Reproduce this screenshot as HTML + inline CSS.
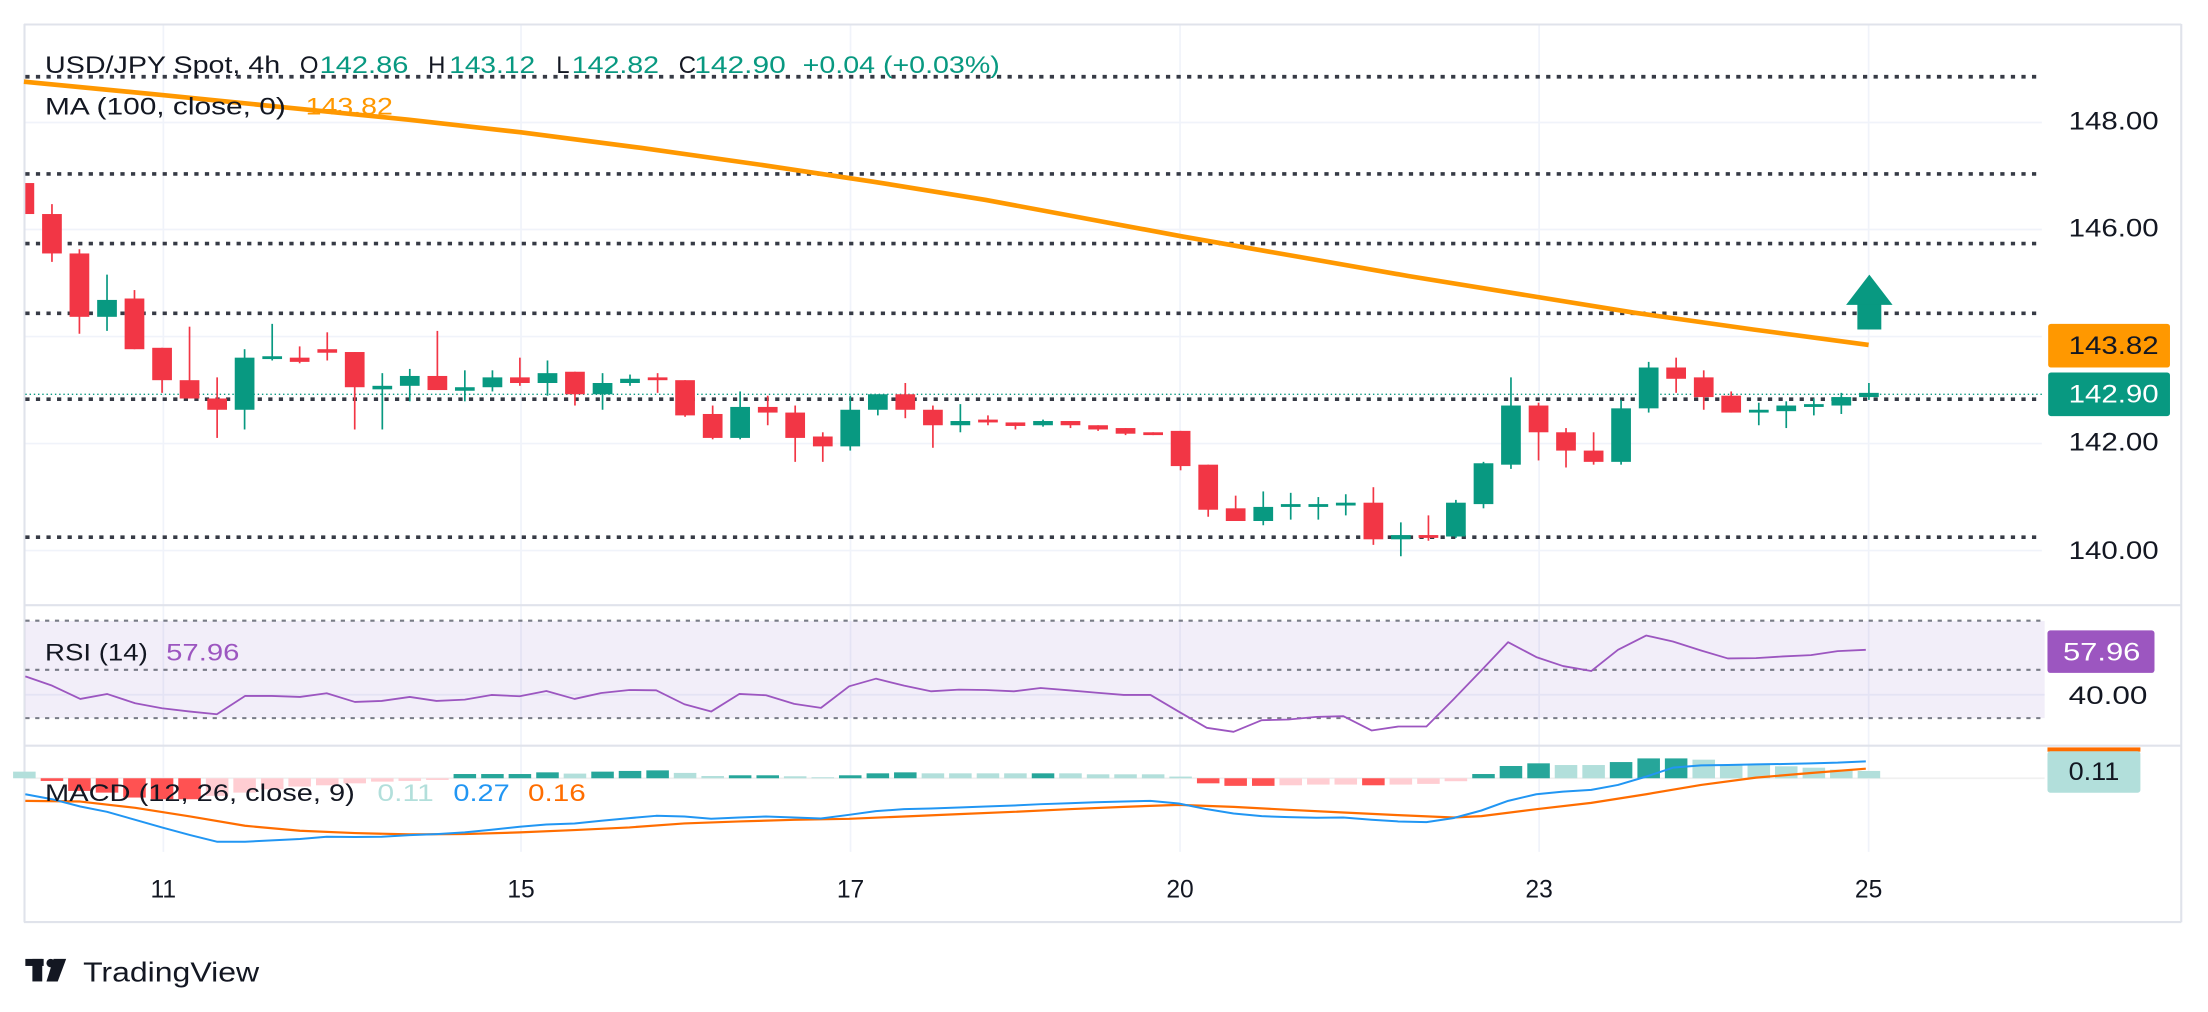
<!DOCTYPE html>
<html><head><meta charset="utf-8"><style>
html,body{margin:0;padding:0;background:#fff;}
svg{display:block;}
text{font-family:"Liberation Sans",sans-serif;}
</style></head><body>
<svg width="2208" height="1012" viewBox="0 0 1568 718.7" preserveAspectRatio="none" xmlns="http://www.w3.org/2000/svg">
<rect width="1568" height="718.7" fill="#fff"/>
<!-- grid -->
<g stroke="#f0f3fa" stroke-width="1.2">
<line x1="18" y1="87" x2="1450" y2="87"/><line x1="18" y1="163" x2="1450" y2="163"/><line x1="18" y1="239" x2="1450" y2="239"/><line x1="18" y1="315" x2="1450" y2="315"/><line x1="18" y1="391" x2="1450" y2="391"/>
<line x1="116" y1="17" x2="116" y2="605"/><line x1="370" y1="17" x2="370" y2="605"/><line x1="604" y1="17" x2="604" y2="605"/><line x1="838" y1="17" x2="838" y2="605"/><line x1="1093" y1="17" x2="1093" y2="605"/><line x1="1327" y1="17" x2="1327" y2="605"/>
<line x1="18" y1="493.4" x2="1452" y2="493.4"/>
</g>
<!-- pane borders -->
<g stroke="#e0e3eb" stroke-width="1.5" fill="none">
<line x1="17" y1="17.4" x2="1549" y2="17.4"/>
<line x1="17.4" y1="17" x2="17.4" y2="655"/>
<line x1="1549" y1="17" x2="1549" y2="655"/>
<line x1="17" y1="429.8" x2="1549" y2="429.8"/>
<line x1="17" y1="529.6" x2="1549" y2="529.6"/>
<line x1="17" y1="654.8" x2="1549" y2="654.8"/>
</g>
<!-- dotted levels -->
<g stroke="#363a45" stroke-width="2.6" stroke-dasharray="3 4.5">
<line x1="18" y1="54.5" x2="1448" y2="54.5"/>
<line x1="18" y1="123.5" x2="1448" y2="123.5"/>
<line x1="18" y1="173" x2="1448" y2="173"/>
<line x1="18" y1="222.5" x2="1448" y2="222.5"/>
<line x1="18" y1="283.5" x2="1448" y2="283.5"/>
<line x1="18" y1="381.5" x2="1448" y2="381.5"/>
</g>
<line x1="18" y1="280" x2="1452" y2="280" stroke="#089981" stroke-width="1" stroke-dasharray="1 2"/>
<!-- MA -->
<polyline fill="none" stroke="#ff9800" stroke-width="3.3" stroke-linejoin="round" points="17,58 110,67 200,76 290,85 370,94 455,105 540,117 620,129 700,142 770,155 840,168 920,182 1000,196 1080,209 1160,222 1245,234 1327,245"/>
<!-- candles -->
<clipPath id="cp"><rect x="18" y="18" width="1440" height="411"/></clipPath>
<g clip-path="url(#cp)">
<g fill="#f23645" stroke="#f23645" stroke-width="1.2">
<line x1="17.3" y1="118" x2="17.3" y2="152"/><rect x="10.3" y="130" width="14" height="22" stroke="none"/>
<line x1="36.9" y1="145" x2="36.9" y2="186"/><rect x="29.9" y="152" width="14" height="28" stroke="none"/>
<line x1="56.4" y1="177" x2="56.4" y2="237"/><rect x="49.4" y="180" width="14" height="45" stroke="none"/>
<line x1="95.5" y1="206" x2="95.5" y2="248"/><rect x="88.5" y="212" width="14" height="36" stroke="none"/>
<line x1="115.1" y1="247" x2="115.1" y2="279"/><rect x="108.1" y="247" width="14" height="23" stroke="none"/>
<line x1="134.6" y1="232" x2="134.6" y2="283"/><rect x="127.6" y="270" width="14" height="13" stroke="none"/>
<line x1="154.2" y1="268" x2="154.2" y2="311"/><rect x="147.2" y="283" width="14" height="8" stroke="none"/>
<line x1="212.8" y1="246" x2="212.8" y2="258"/><rect x="205.8" y="254" width="14" height="3" stroke="none"/>
<line x1="232.4" y1="236" x2="232.4" y2="256"/><rect x="225.4" y="248" width="14" height="2.5" stroke="none"/>
<line x1="251.9" y1="250" x2="251.9" y2="305"/><rect x="244.9" y="250" width="14" height="25" stroke="none"/>
<line x1="310.6" y1="235" x2="310.6" y2="277"/><rect x="303.6" y="267" width="14" height="10" stroke="none"/>
<line x1="369.2" y1="254" x2="369.2" y2="274"/><rect x="362.2" y="268" width="14" height="4" stroke="none"/>
<line x1="408.3" y1="264" x2="408.3" y2="288"/><rect x="401.3" y="264" width="14" height="16" stroke="none"/>
<line x1="467" y1="265" x2="467" y2="279"/><rect x="460" y="268" width="14" height="2" stroke="none"/>
<line x1="486.5" y1="270" x2="486.5" y2="296"/><rect x="479.5" y="270" width="14" height="25" stroke="none"/>
<line x1="506.1" y1="288" x2="506.1" y2="312"/><rect x="499.1" y="294" width="14" height="17" stroke="none"/>
<line x1="545.2" y1="281" x2="545.2" y2="302"/><rect x="538.2" y="289" width="14" height="4" stroke="none"/>
<line x1="564.7" y1="288" x2="564.7" y2="328"/><rect x="557.7" y="293" width="14" height="18" stroke="none"/>
<line x1="584.3" y1="307" x2="584.3" y2="328"/><rect x="577.3" y="310" width="14" height="7" stroke="none"/>
<line x1="642.9" y1="272" x2="642.9" y2="297"/><rect x="635.9" y="280" width="14" height="11" stroke="none"/>
<line x1="662.5" y1="288" x2="662.5" y2="318"/><rect x="655.5" y="291" width="14" height="11" stroke="none"/>
<line x1="701.6" y1="295" x2="701.6" y2="302"/><rect x="694.6" y="298" width="14" height="2" stroke="none"/>
<line x1="721.1" y1="300" x2="721.1" y2="305"/><rect x="714.1" y="300" width="14" height="2.5" stroke="none"/>
<line x1="760.2" y1="299" x2="760.2" y2="304"/><rect x="753.2" y="299" width="14" height="3" stroke="none"/>
<line x1="779.8" y1="302" x2="779.8" y2="306"/><rect x="772.8" y="302" width="14" height="3" stroke="none"/>
<line x1="799.3" y1="304" x2="799.3" y2="309"/><rect x="792.3" y="304" width="14" height="4" stroke="none"/>
<line x1="818.9" y1="307" x2="818.9" y2="309"/><rect x="811.9" y="307" width="14" height="2" stroke="none"/>
<line x1="838.4" y1="306" x2="838.4" y2="334"/><rect x="831.4" y="306" width="14" height="25" stroke="none"/>
<line x1="858" y1="330" x2="858" y2="367"/><rect x="851" y="330" width="14" height="32" stroke="none"/>
<line x1="877.5" y1="352" x2="877.5" y2="370"/><rect x="870.5" y="361" width="14" height="9" stroke="none"/>
<line x1="975.3" y1="346" x2="975.3" y2="387"/><rect x="968.3" y="357" width="14" height="26" stroke="none"/>
<line x1="1014.4" y1="366" x2="1014.4" y2="384"/><rect x="1007.4" y="380" width="14" height="2" stroke="none"/>
<line x1="1092.6" y1="286" x2="1092.6" y2="327"/><rect x="1085.6" y="288" width="14" height="19" stroke="none"/>
<line x1="1112.1" y1="304" x2="1112.1" y2="332"/><rect x="1105.1" y="307" width="14" height="13" stroke="none"/>
<line x1="1131.7" y1="307" x2="1131.7" y2="330"/><rect x="1124.7" y="320" width="14" height="8" stroke="none"/>
<line x1="1190.3" y1="254" x2="1190.3" y2="279"/><rect x="1183.3" y="261" width="14" height="8" stroke="none"/>
<line x1="1209.9" y1="263" x2="1209.9" y2="291"/><rect x="1202.9" y="268" width="14" height="14" stroke="none"/>
<line x1="1229.4" y1="278" x2="1229.4" y2="293"/><rect x="1222.4" y="281" width="14" height="12" stroke="none"/>
</g>
<g fill="#089981" stroke="#089981" stroke-width="1.2">
<line x1="76" y1="195" x2="76" y2="235"/><rect x="69" y="213" width="14" height="12" stroke="none"/>
<line x1="173.7" y1="248" x2="173.7" y2="305"/><rect x="166.7" y="254" width="14" height="37" stroke="none"/>
<line x1="193.3" y1="230" x2="193.3" y2="256"/><rect x="186.3" y="253" width="14" height="2" stroke="none"/>
<line x1="271.5" y1="265" x2="271.5" y2="305"/><rect x="264.5" y="274" width="14" height="2.5" stroke="none"/>
<line x1="291" y1="262" x2="291" y2="285"/><rect x="284" y="267" width="14" height="7" stroke="none"/>
<line x1="330.1" y1="263" x2="330.1" y2="285"/><rect x="323.1" y="275" width="14" height="2.5" stroke="none"/>
<line x1="349.7" y1="263" x2="349.7" y2="278"/><rect x="342.7" y="268" width="14" height="7" stroke="none"/>
<line x1="388.8" y1="256" x2="388.8" y2="281"/><rect x="381.8" y="265" width="14" height="7" stroke="none"/>
<line x1="427.9" y1="265" x2="427.9" y2="291"/><rect x="420.9" y="272" width="14" height="8" stroke="none"/>
<line x1="447.4" y1="266" x2="447.4" y2="274"/><rect x="440.4" y="269" width="14" height="3" stroke="none"/>
<line x1="525.6" y1="278" x2="525.6" y2="312"/><rect x="518.6" y="289" width="14" height="22" stroke="none"/>
<line x1="603.8" y1="281" x2="603.8" y2="320"/><rect x="596.8" y="291" width="14" height="26" stroke="none"/>
<line x1="623.4" y1="280" x2="623.4" y2="295"/><rect x="616.4" y="280" width="14" height="11" stroke="none"/>
<line x1="682" y1="287" x2="682" y2="307"/><rect x="675" y="299" width="14" height="3" stroke="none"/>
<line x1="740.7" y1="298" x2="740.7" y2="303"/><rect x="733.7" y="299" width="14" height="3" stroke="none"/>
<line x1="897.1" y1="349" x2="897.1" y2="373"/><rect x="890.1" y="360" width="14" height="10" stroke="none"/>
<line x1="916.6" y1="350" x2="916.6" y2="369"/><rect x="909.6" y="358" width="14" height="2" stroke="none"/>
<line x1="936.2" y1="353" x2="936.2" y2="369"/><rect x="929.2" y="358" width="14" height="2" stroke="none"/>
<line x1="955.7" y1="351" x2="955.7" y2="366"/><rect x="948.7" y="357" width="14" height="2" stroke="none"/>
<line x1="994.8" y1="371" x2="994.8" y2="395"/><rect x="987.8" y="380" width="14" height="3" stroke="none"/>
<line x1="1033.9" y1="355" x2="1033.9" y2="382"/><rect x="1026.9" y="357" width="14" height="24" stroke="none"/>
<line x1="1053.5" y1="328" x2="1053.5" y2="361"/><rect x="1046.5" y="329" width="14" height="29" stroke="none"/>
<line x1="1073" y1="268" x2="1073" y2="333"/><rect x="1066" y="288" width="14" height="42" stroke="none"/>
<line x1="1151.2" y1="284" x2="1151.2" y2="330"/><rect x="1144.2" y="290" width="14" height="38" stroke="none"/>
<line x1="1170.8" y1="257" x2="1170.8" y2="293"/><rect x="1163.8" y="261" width="14" height="29" stroke="none"/>
<line x1="1249" y1="286" x2="1249" y2="302"/><rect x="1242" y="291" width="14" height="2" stroke="none"/>
<line x1="1268.5" y1="285" x2="1268.5" y2="304"/><rect x="1261.5" y="288" width="14" height="4" stroke="none"/>
<line x1="1288.1" y1="283" x2="1288.1" y2="295"/><rect x="1281.1" y="287" width="14" height="2" stroke="none"/>
<line x1="1307.6" y1="279" x2="1307.6" y2="294"/><rect x="1300.6" y="282" width="14" height="6" stroke="none"/>
<line x1="1327.2" y1="272" x2="1327.2" y2="284"/><rect x="1320.2" y="279" width="14" height="3" stroke="none"/>
</g>
</g>
<!-- arrow -->
<rect x="1319" y="215" width="17" height="19" fill="#089981"/>
<polygon points="1311,216.5 1344,216.5 1327.5,195" fill="#089981"/>
<!-- title -->
<text x="32" y="52" font-size="17" fill="#131722" textLength="167" lengthAdjust="spacingAndGlyphs">USD/JPY Spot, 4h</text>
<text x="213" y="52" font-size="17" fill="#131722">O</text>
<text x="227" y="52" font-size="17" fill="#089981" textLength="63" lengthAdjust="spacingAndGlyphs">142.86</text>
<text x="304" y="52" font-size="17" fill="#131722">H</text>
<text x="319" y="52" font-size="17" fill="#089981" textLength="61" lengthAdjust="spacingAndGlyphs">143.12</text>
<text x="395" y="52" font-size="17" fill="#131722">L</text>
<text x="406" y="52" font-size="17" fill="#089981" textLength="62" lengthAdjust="spacingAndGlyphs">142.82</text>
<text x="482" y="52" font-size="17" fill="#131722">C</text>
<text x="493" y="52" font-size="17" fill="#089981" textLength="65" lengthAdjust="spacingAndGlyphs">142.90</text>
<text x="570" y="52" font-size="17" fill="#089981" textLength="140" lengthAdjust="spacingAndGlyphs">+0.04 (+0.03%)</text>
<text x="32" y="81.5" font-size="17" fill="#131722" textLength="171" lengthAdjust="spacingAndGlyphs">MA (100, close, 0)</text>
<text x="217" y="81.5" font-size="17" fill="#ff9800" textLength="62" lengthAdjust="spacingAndGlyphs">143.82</text>
<!-- price axis -->
<g font-size="17.5" fill="#131722">
<text x="1469" y="92" textLength="64" lengthAdjust="spacingAndGlyphs">148.00</text>
<text x="1469" y="168" textLength="64" lengthAdjust="spacingAndGlyphs">146.00</text>
<text x="1469" y="320" textLength="64" lengthAdjust="spacingAndGlyphs">142.00</text>
<text x="1469" y="397" textLength="64" lengthAdjust="spacingAndGlyphs">140.00</text>
<text x="1469" y="500" textLength="56" lengthAdjust="spacingAndGlyphs">40.00</text>
</g>
<rect x="1454.5" y="230" width="86.5" height="31" rx="2" fill="#ff9800"/>
<text x="1469" y="251.5" font-size="17.5" fill="#131722" textLength="64" lengthAdjust="spacingAndGlyphs">143.82</text>
<rect x="1454.5" y="264.5" width="86.5" height="31" rx="2" fill="#089981"/>
<text x="1469" y="286" font-size="17.5" fill="#fff" textLength="64" lengthAdjust="spacingAndGlyphs">142.90</text>
<!-- RSI -->
<rect x="18" y="441" width="1434" height="69" fill="#7e57c2" fill-opacity="0.1"/>
<g stroke="#787b86" stroke-width="1.5" stroke-dasharray="3 4">
<line x1="18" y1="440.8" x2="1452" y2="440.8"/><line x1="18" y1="475.7" x2="1452" y2="475.7"/><line x1="18" y1="510" x2="1452" y2="510"/>
</g>
<g transform="translate(0,426.1) scale(1,0.2358)">
<polyline fill="none" stroke="#9c56c0" stroke-width="1.8" vector-effect="non-scaling-stroke" stroke-linejoin="round" points="18,230 37,258 57,298 76,283 96,311 115,326 135,336 154,344 174,289 193,289 213,292 232,281 252,307 271,304 291,292 310,304 330,300 349,286 369,290 388,274 408,298 427,280 447,271 466,272 486,314 505,336 525,283 544,287 564,313 583,325 603,260 622,237 642,258 661,275 681,270 700,271 720,275 739,265 759,272 778,279 798,286 817,286 837,336 857,385 876,397 896,362 915,360 935,352 954,350 974,393 993,381 1013,381 1032,300 1052,212 1071,127 1091,172 1110,199 1130,214 1149,150 1169,107 1188,125 1208,152 1227,176 1247,175 1266,170 1286,166 1305,154 1325,150"/>
</g>
<text x="32" y="469" font-size="17" fill="#131722" textLength="73" lengthAdjust="spacingAndGlyphs">RSI (14)</text>
<text x="118" y="469" font-size="17" fill="#9c56c0" textLength="52" lengthAdjust="spacingAndGlyphs">57.96</text>
<rect x="1454" y="447.7" width="76" height="30.2" rx="2" fill="#9c56c0"/>
<text x="1465" y="469" font-size="17.5" fill="#fff" textLength="55" lengthAdjust="spacingAndGlyphs">57.96</text>
<!-- MACD -->
<line x1="18" y1="552.7" x2="1452" y2="552.7" stroke="#f0f0f0" stroke-width="1.2"/>
<g>
<rect x="9.3" y="548" width="16" height="4.7" fill="#b2dfdb"/>
<rect x="28.9" y="552.7" width="16" height="1.9" fill="#ff5252"/>
<rect x="48.4" y="552.7" width="16" height="9" fill="#ff5252"/>
<rect x="68" y="552.7" width="16" height="10.2" fill="#ff5252"/>
<rect x="87.5" y="552.7" width="16" height="13.7" fill="#ff5252"/>
<rect x="107.1" y="552.7" width="16" height="14.9" fill="#ff5252"/>
<rect x="126.6" y="552.7" width="16" height="14.9" fill="#ff5252"/>
<rect x="146.2" y="552.7" width="16" height="12.5" fill="#ffcdd2"/>
<rect x="165.7" y="552.7" width="16" height="10.2" fill="#ffcdd2"/>
<rect x="185.3" y="552.7" width="16" height="7.8" fill="#ffcdd2"/>
<rect x="204.8" y="552.7" width="16" height="5.9" fill="#ffcdd2"/>
<rect x="224.4" y="552.7" width="16" height="5" fill="#ffcdd2"/>
<rect x="243.9" y="552.7" width="16" height="3.6" fill="#ffcdd2"/>
<rect x="263.5" y="552.7" width="16" height="2.4" fill="#ffcdd2"/>
<rect x="283" y="552.7" width="16" height="1.9" fill="#ffcdd2"/>
<rect x="302.6" y="552.7" width="16" height="1.2" fill="#ffcdd2"/>
<rect x="322.1" y="549.7" width="16" height="3" fill="#26a69a"/>
<rect x="341.7" y="549.7" width="16" height="3" fill="#26a69a"/>
<rect x="361.2" y="549.7" width="16" height="3" fill="#26a69a"/>
<rect x="380.8" y="548.5" width="16" height="4.2" fill="#26a69a"/>
<rect x="400.3" y="549.4" width="16" height="3.3" fill="#b2dfdb"/>
<rect x="419.9" y="548" width="16" height="4.7" fill="#26a69a"/>
<rect x="439.4" y="547.5" width="16" height="5.2" fill="#26a69a"/>
<rect x="459" y="547.1" width="16" height="5.6" fill="#26a69a"/>
<rect x="478.5" y="548.9" width="16" height="3.8" fill="#b2dfdb"/>
<rect x="498.1" y="551.1" width="16" height="1.6" fill="#b2dfdb"/>
<rect x="517.6" y="550.6" width="16" height="2.1" fill="#26a69a"/>
<rect x="537.2" y="550.6" width="16" height="2.1" fill="#26a69a"/>
<rect x="556.7" y="551.3" width="16" height="1.4" fill="#b2dfdb"/>
<rect x="576.3" y="552" width="16" height="0.7" fill="#b2dfdb"/>
<rect x="595.8" y="550.6" width="16" height="2.1" fill="#26a69a"/>
<rect x="615.4" y="549.2" width="16" height="3.5" fill="#26a69a"/>
<rect x="634.9" y="548.5" width="16" height="4.2" fill="#26a69a"/>
<rect x="654.5" y="549.2" width="16" height="3.5" fill="#b2dfdb"/>
<rect x="674" y="549.2" width="16" height="3.5" fill="#b2dfdb"/>
<rect x="693.6" y="549.2" width="16" height="3.5" fill="#b2dfdb"/>
<rect x="713.1" y="549.2" width="16" height="3.5" fill="#b2dfdb"/>
<rect x="732.7" y="549.2" width="16" height="3.5" fill="#26a69a"/>
<rect x="752.2" y="549.2" width="16" height="3.5" fill="#b2dfdb"/>
<rect x="771.8" y="549.9" width="16" height="2.8" fill="#b2dfdb"/>
<rect x="791.3" y="549.9" width="16" height="2.8" fill="#b2dfdb"/>
<rect x="810.9" y="549.9" width="16" height="2.8" fill="#b2dfdb"/>
<rect x="830.4" y="551.5" width="16" height="1.2" fill="#b2dfdb"/>
<rect x="850" y="552.7" width="16" height="3.6" fill="#ff5252"/>
<rect x="869.5" y="552.7" width="16" height="5.4" fill="#ff5252"/>
<rect x="889.1" y="552.7" width="16" height="5.4" fill="#ff5252"/>
<rect x="908.6" y="552.7" width="16" height="5" fill="#ffcdd2"/>
<rect x="928.2" y="552.7" width="16" height="4.5" fill="#ffcdd2"/>
<rect x="947.7" y="552.7" width="16" height="4.5" fill="#ffcdd2"/>
<rect x="967.3" y="552.7" width="16" height="5" fill="#ff5252"/>
<rect x="986.8" y="552.7" width="16" height="4.5" fill="#ffcdd2"/>
<rect x="1006.4" y="552.7" width="16" height="4" fill="#ffcdd2"/>
<rect x="1025.9" y="552.7" width="16" height="2.1" fill="#ffcdd2"/>
<rect x="1045.5" y="549.7" width="16" height="3" fill="#26a69a"/>
<rect x="1065" y="544" width="16" height="8.7" fill="#26a69a"/>
<rect x="1084.6" y="542.1" width="16" height="10.6" fill="#26a69a"/>
<rect x="1104.1" y="543.3" width="16" height="9.4" fill="#b2dfdb"/>
<rect x="1123.7" y="543.3" width="16" height="9.4" fill="#b2dfdb"/>
<rect x="1143.2" y="541.2" width="16" height="11.5" fill="#26a69a"/>
<rect x="1162.8" y="538.6" width="16" height="14.1" fill="#26a69a"/>
<rect x="1182.3" y="538.6" width="16" height="14.1" fill="#26a69a"/>
<rect x="1201.9" y="539.5" width="16" height="13.2" fill="#b2dfdb"/>
<rect x="1221.4" y="543.3" width="16" height="9.4" fill="#b2dfdb"/>
<rect x="1241" y="543.3" width="16" height="9.4" fill="#b2dfdb"/>
<rect x="1260.5" y="544.2" width="16" height="8.5" fill="#b2dfdb"/>
<rect x="1280.1" y="545.2" width="16" height="7.5" fill="#b2dfdb"/>
<rect x="1299.6" y="546.6" width="16" height="6.1" fill="#b2dfdb"/>
<rect x="1319.2" y="547.5" width="16" height="5.2" fill="#b2dfdb"/>
</g>
<g transform="translate(0,426.1) scale(1,0.2358)">
<polyline fill="none" stroke="#ff6d00" stroke-width="2.2" vector-effect="non-scaling-stroke" stroke-linejoin="round" points="18,605 57,607 96,626 135,652 174,680 213,695 252,702 291,706 330,705 369,700 408,693 447,685 486,673 525,667 564,662 603,659 642,652 681,645 720,638 759,630 798,623 837,617 876,623 915,632 954,640 993,648 1032,655 1052,651 1091,630 1130,611 1169,585 1208,557 1247,535 1286,521 1325,508"/>
<polyline fill="none" stroke="#2196f3" stroke-width="2" vector-effect="non-scaling-stroke" stroke-linejoin="round" points="18,585 37,600 57,622 76,638 96,662 115,685 135,708 154,728 174,728 193,724 213,720 232,713 252,714 271,713 291,708 310,705 330,700 349,692 369,683 388,676 408,673 427,665 447,657 466,650 486,652 505,659 525,655 544,652 564,655 583,658 603,647 622,636 642,630 661,628 681,625 700,622 720,619 739,615 759,612 778,609 798,607 817,605 837,613 857,630 876,643 896,651 915,654 935,656 954,655 974,662 993,667 1013,669 1032,657 1052,634 1071,605 1091,585 1110,577 1130,572 1149,557 1169,532 1188,505 1208,498 1227,497 1247,495 1266,494 1286,492 1305,490 1325,486"/>
</g>
<text x="32" y="569" font-size="17" fill="#131722" textLength="220" lengthAdjust="spacingAndGlyphs">MACD (12, 26, close, 9)</text>
<text x="268" y="569" font-size="17" fill="#b2dfdb" textLength="40" lengthAdjust="spacingAndGlyphs">0.11</text>
<text x="322" y="569" font-size="17" fill="#2196f3" textLength="40" lengthAdjust="spacingAndGlyphs">0.27</text>
<text x="375" y="569" font-size="17" fill="#ff6d00" textLength="41" lengthAdjust="spacingAndGlyphs">0.16</text>
<rect x="1454" y="530.8" width="66" height="3" fill="#ff6d00"/>
<rect x="1454" y="533.5" width="66" height="29.5" rx="2" fill="#b2dfdb"/>
<text x="1469" y="554" font-size="17.5" fill="#131722" textLength="36" lengthAdjust="spacingAndGlyphs">0.11</text>
<!-- time axis -->
<g font-size="17.5" fill="#131722" text-anchor="middle">
<text x="116" y="637.5">11</text><text x="370" y="637.5">15</text><text x="604" y="637.5">17</text><text x="838" y="637.5">20</text><text x="1093" y="637.5">23</text><text x="1327" y="637.5">25</text>
</g>
<!-- logo -->
<g fill="#131722">
<rect x="18" y="681" width="13" height="5"/>
<rect x="23" y="681" width="7" height="16"/>
<circle cx="36" cy="684" r="3"/>
<polygon points="38,681 47,681 41,697 33,697"/>
</g>
<text x="59" y="697" font-size="19.5" fill="#131722" textLength="125" lengthAdjust="spacingAndGlyphs">TradingView</text>
</svg>
</body></html>
